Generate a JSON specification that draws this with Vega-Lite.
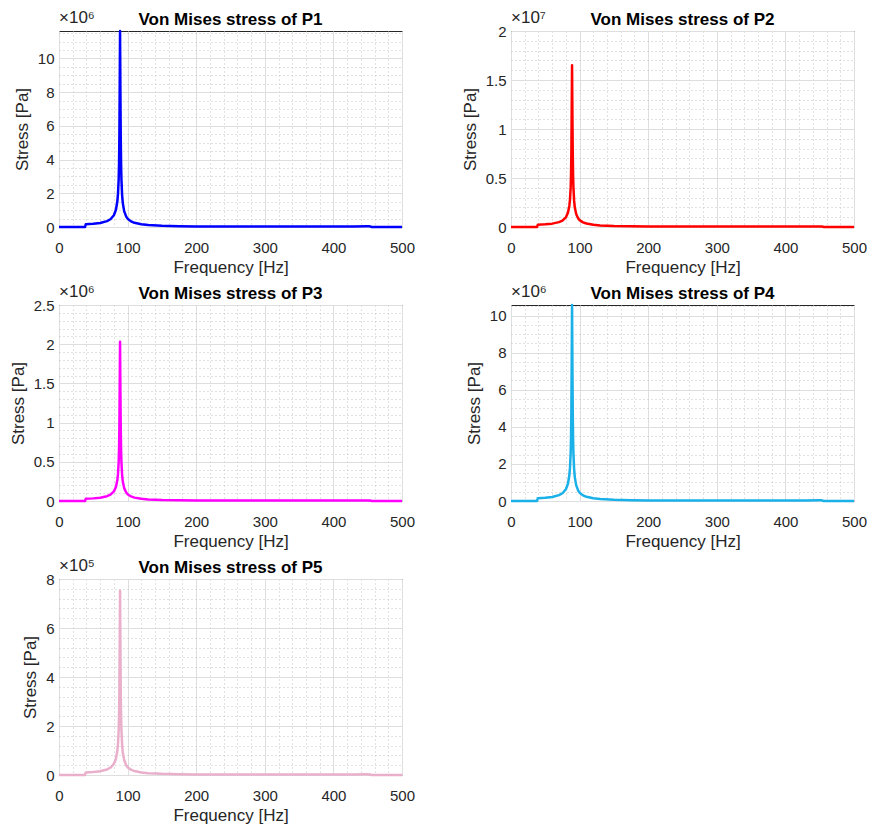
{
  "$schema": "https://vega.github.io/schema/vega-lite/v6.json",
  "background": "white",
  "padding": {"left": 8, "top": 8, "right": 5, "bottom": 5},
  "datasets": {
    "stress": [
      {"f": 0, "P1": 0, "P2": 0, "P3": 0, "P4": 0, "P5": 0},
      {"f": 38, "P1": 0, "P2": 0, "P3": 0, "P4": 0, "P5": 0},
      {"f": 39, "P1": 161700, "P2": 229400, "P3": 28220, "P4": 146900, "P5": 10450},
      {"f": 50, "P1": 191900, "P2": 272300, "P3": 33500, "P4": 174400, "P5": 12410},
      {"f": 60, "P1": 241900, "P2": 343200, "P3": 42220, "P4": 219900, "P5": 15640},
      {"f": 70, "P1": 348900, "P2": 495000, "P3": 60900, "P4": 317100, "P5": 22560},
      {"f": 75, "P1": 459400, "P2": 651800, "P3": 80190, "P4": 417500, "P5": 29700},
      {"f": 80, "P1": 697800, "P2": 990000, "P3": 121800, "P4": 634200, "P5": 45120},
      {"f": 83, "P1": 1023400, "P2": 1452000, "P3": 178600, "P4": 930200, "P5": 66180},
      {"f": 85, "P1": 1511900, "P2": 2145000, "P3": 263900, "P4": 1374100, "P5": 97760},
      {"f": 86, "P1": 1977100, "P2": 2805000, "P3": 345100, "P4": 1796900, "P5": 127800},
      {"f": 87, "P1": 2849400, "P2": 4042500, "P3": 497400, "P4": 2589700, "P5": 184200},
      {"f": 87.5, "P1": 3721600, "P2": 5280000, "P3": 649600, "P4": 3382400, "P5": 240600},
      {"f": 88, "P1": 5349800, "P2": 7590000, "P3": 933800, "P4": 4862200, "P5": 345900},
      {"f": 88.5, "P1": 8373600, "P2": 11880000, "P3": 1461600, "P4": 7610400, "P5": 541400},
      {"f": 89, "P1": 11630000, "P2": 16500000, "P3": 2030000, "P4": 10570000, "P5": 752000},
      {"f": 89.5, "P1": 8141000, "P2": 11550000, "P3": 1421000, "P4": 7399000, "P5": 526400},
      {"f": 90, "P1": 5349800, "P2": 7590000, "P3": 933800, "P4": 4862200, "P5": 345900},
      {"f": 90.5, "P1": 3721600, "P2": 5280000, "P3": 649600, "P4": 3382400, "P5": 240600},
      {"f": 91, "P1": 2849400, "P2": 4042500, "P3": 497400, "P4": 2589700, "P5": 184200},
      {"f": 92, "P1": 1895700, "P2": 2689500, "P3": 330900, "P4": 1722900, "P5": 122600},
      {"f": 93, "P1": 1418900, "P2": 2013000, "P3": 247700, "P4": 1289500, "P5": 91740},
      {"f": 95, "P1": 942000, "P2": 1336500, "P3": 164400, "P4": 856200, "P5": 60910},
      {"f": 98, "P1": 616400, "P2": 874500, "P3": 107600, "P4": 560200, "P5": 39860},
      {"f": 100, "P1": 494300, "P2": 701300, "P3": 86280, "P4": 449200, "P5": 31960},
      {"f": 105, "P1": 333800, "P2": 473600, "P3": 58260, "P4": 303400, "P5": 21580},
      {"f": 110, "P1": 247700, "P2": 351500, "P3": 43240, "P4": 225100, "P5": 16020},
      {"f": 120, "P1": 159300, "P2": 226100, "P3": 27810, "P4": 144800, "P5": 10300},
      {"f": 130, "P1": 115100, "P2": 163400, "P3": 20100, "P4": 104600, "P5": 7445},
      {"f": 150, "P1": 72100, "P2": 102300, "P3": 12590, "P4": 65530, "P5": 4662},
      {"f": 175, "P1": 46500, "P2": 66000, "P3": 8120, "P4": 42280, "P5": 3008},
      {"f": 200, "P1": 34900, "P2": 49500, "P3": 6090, "P4": 31710, "P5": 2256},
      {"f": 250, "P1": 30200, "P2": 42900, "P3": 5278, "P4": 27480, "P5": 1955},
      {"f": 300, "P1": 29100, "P2": 41250, "P3": 5075, "P4": 26430, "P5": 1880},
      {"f": 350, "P1": 29100, "P2": 41250, "P3": 5075, "P4": 26430, "P5": 1880},
      {"f": 400, "P1": 30200, "P2": 42900, "P3": 5278, "P4": 27480, "P5": 1955},
      {"f": 430, "P1": 34900, "P2": 49500, "P3": 6090, "P4": 31710, "P5": 2256},
      {"f": 448, "P1": 39500, "P2": 56100, "P3": 6902, "P4": 35940, "P5": 2557},
      {"f": 453, "P1": 38400, "P2": 54450, "P3": 6699, "P4": 34880, "P5": 2482},
      {"f": 456, "P1": 0, "P2": 0, "P3": 0, "P4": 0, "P5": 0},
      {"f": 500, "P1": 0, "P2": 0, "P3": 0, "P4": 0, "P5": 0}
    ]
  },
  "columns": 2,
  "spacing": {"row": 78, "column": 109},
  "bounds": "flush",
  "concat": [
    {
      "width": 343, "height": 196,
      "title": "Von Mises stress of P1",
      "layer": [
        {
          "data": {"name": "stress"},
          "mark": {"type": "line", "color": "#0000ff", "strokeWidth": 2.5, "strokeJoin": "round"},
          "encoding": {
            "x": {"field": "f", "type": "quantitative", "scale": {"domain": [0, 500], "nice": false},
              "axis": {"title": "Frequency [Hz]", "labelOverlap": false, "labelFlush": false, "tickCount": 200,
                "values": [0,20,40,60,80,100,120,140,160,180,200,220,240,260,280,300,320,340,360,380,400,420,440,460,480,500],
                "labelExpr": "datum.value % 100 === 0 ? datum.label : ''",
                "gridDash": {"condition": {"test": "datum.value % 100 === 0", "value": []}, "value": [1, 3]},
                "gridColor": {"condition": {"test": "datum.value % 100 === 0", "value": "#dedede"}, "value": "#c4c4c4"}}},
            "y": {"field": "P1", "type": "quantitative", "scale": {"domain": [0, 11630000], "nice": false},
              "axis": {"title": "Stress [Pa]", "labelOverlap": false, "tickCount": 200,
                "values": [0,500000,1000000,1500000,2000000,2500000,3000000,3500000,4000000,4500000,5000000,5500000,6000000,6500000,7000000,7500000,8000000,8500000,9000000,9500000,10000000,10500000,11000000,11500000],
                "labelExpr": "datum.value % 2000000 === 0 ? format(datum.value / 1e6, '~g') : ''",
                "gridDash": {"condition": {"test": "datum.value % 2000000 === 0", "value": []}, "value": [1, 3]},
                "gridColor": {"condition": {"test": "datum.value % 2000000 === 0", "value": "#dedede"}, "value": "#c4c4c4"}}}
          }
        },
        {
          "data": {"values": [{"exp": "×10⁶"}]},
          "mark": {"type": "text", "align": "left", "baseline": "bottom", "dy": -4, "fontSize": 17, "color": "#262626"},
          "encoding": {
            "x": {"datum": 0, "type": "quantitative"},
            "y": {"datum": 11630000, "type": "quantitative"},
            "text": {"field": "exp"}
          }
        }
      ]
    },
    {
      "width": 343, "height": 196,
      "title": "Von Mises stress of P2",
      "layer": [
        {
          "data": {"name": "stress"},
          "mark": {"type": "line", "color": "#ff0000", "strokeWidth": 2.5, "strokeJoin": "round"},
          "encoding": {
            "x": {"field": "f", "type": "quantitative", "scale": {"domain": [0, 500], "nice": false},
              "axis": {"title": "Frequency [Hz]", "labelOverlap": false, "labelFlush": false, "tickCount": 200,
                "values": [0,20,40,60,80,100,120,140,160,180,200,220,240,260,280,300,320,340,360,380,400,420,440,460,480,500],
                "labelExpr": "datum.value % 100 === 0 ? datum.label : ''",
                "gridDash": {"condition": {"test": "datum.value % 100 === 0", "value": []}, "value": [1, 3]},
                "gridColor": {"condition": {"test": "datum.value % 100 === 0", "value": "#dedede"}, "value": "#c4c4c4"}}},
            "y": {"field": "P2", "type": "quantitative", "scale": {"domain": [0, 20000000], "nice": false},
              "axis": {"title": "Stress [Pa]", "labelOverlap": false, "tickCount": 200,
                "values": [0,1000000,2000000,3000000,4000000,5000000,6000000,7000000,8000000,9000000,10000000,11000000,12000000,13000000,14000000,15000000,16000000,17000000,18000000,19000000,20000000],
                "labelExpr": "datum.value % 5000000 === 0 ? format(datum.value / 1e7, '~g') : ''",
                "gridDash": {"condition": {"test": "datum.value % 5000000 === 0", "value": []}, "value": [1, 3]},
                "gridColor": {"condition": {"test": "datum.value % 5000000 === 0", "value": "#dedede"}, "value": "#c4c4c4"}}}
          }
        },
        {
          "data": {"values": [{"exp": "×10⁷"}]},
          "mark": {"type": "text", "align": "left", "baseline": "bottom", "dy": -4, "fontSize": 17, "color": "#262626"},
          "encoding": {
            "x": {"datum": 0, "type": "quantitative"},
            "y": {"datum": 20000000, "type": "quantitative"},
            "text": {"field": "exp"}
          }
        }
      ]
    },
    {
      "width": 343, "height": 196,
      "title": "Von Mises stress of P3",
      "layer": [
        {
          "data": {"name": "stress"},
          "mark": {"type": "line", "color": "#ff00ff", "strokeWidth": 2.5, "strokeJoin": "round"},
          "encoding": {
            "x": {"field": "f", "type": "quantitative", "scale": {"domain": [0, 500], "nice": false},
              "axis": {"title": "Frequency [Hz]", "labelOverlap": false, "labelFlush": false, "tickCount": 200,
                "values": [0,20,40,60,80,100,120,140,160,180,200,220,240,260,280,300,320,340,360,380,400,420,440,460,480,500],
                "labelExpr": "datum.value % 100 === 0 ? datum.label : ''",
                "gridDash": {"condition": {"test": "datum.value % 100 === 0", "value": []}, "value": [1, 3]},
                "gridColor": {"condition": {"test": "datum.value % 100 === 0", "value": "#dedede"}, "value": "#c4c4c4"}}},
            "y": {"field": "P3", "type": "quantitative", "scale": {"domain": [0, 2500000], "nice": false},
              "axis": {"title": "Stress [Pa]", "labelOverlap": false, "tickCount": 200,
                "values": [0,100000,200000,300000,400000,500000,600000,700000,800000,900000,1000000,1100000,1200000,1300000,1400000,1500000,1600000,1700000,1800000,1900000,2000000,2100000,2200000,2300000,2400000,2500000],
                "labelExpr": "datum.value % 500000 === 0 ? format(datum.value / 1e6, '~g') : ''",
                "gridDash": {"condition": {"test": "datum.value % 500000 === 0", "value": []}, "value": [1, 3]},
                "gridColor": {"condition": {"test": "datum.value % 500000 === 0", "value": "#dedede"}, "value": "#c4c4c4"}}}
          }
        },
        {
          "data": {"values": [{"exp": "×10⁶"}]},
          "mark": {"type": "text", "align": "left", "baseline": "bottom", "dy": -4, "fontSize": 17, "color": "#262626"},
          "encoding": {
            "x": {"datum": 0, "type": "quantitative"},
            "y": {"datum": 2500000, "type": "quantitative"},
            "text": {"field": "exp"}
          }
        }
      ]
    },
    {
      "width": 343, "height": 196,
      "title": "Von Mises stress of P4",
      "layer": [
        {
          "data": {"name": "stress"},
          "mark": {"type": "line", "color": "#1ab0e8", "strokeWidth": 2.5, "strokeJoin": "round"},
          "encoding": {
            "x": {"field": "f", "type": "quantitative", "scale": {"domain": [0, 500], "nice": false},
              "axis": {"title": "Frequency [Hz]", "labelOverlap": false, "labelFlush": false, "tickCount": 200,
                "values": [0,20,40,60,80,100,120,140,160,180,200,220,240,260,280,300,320,340,360,380,400,420,440,460,480,500],
                "labelExpr": "datum.value % 100 === 0 ? datum.label : ''",
                "gridDash": {"condition": {"test": "datum.value % 100 === 0", "value": []}, "value": [1, 3]},
                "gridColor": {"condition": {"test": "datum.value % 100 === 0", "value": "#dedede"}, "value": "#c4c4c4"}}},
            "y": {"field": "P4", "type": "quantitative", "scale": {"domain": [0, 10570000], "nice": false},
              "axis": {"title": "Stress [Pa]", "labelOverlap": false, "tickCount": 200,
                "values": [0,500000,1000000,1500000,2000000,2500000,3000000,3500000,4000000,4500000,5000000,5500000,6000000,6500000,7000000,7500000,8000000,8500000,9000000,9500000,10000000,10500000],
                "labelExpr": "datum.value % 2000000 === 0 ? format(datum.value / 1e6, '~g') : ''",
                "gridDash": {"condition": {"test": "datum.value % 2000000 === 0", "value": []}, "value": [1, 3]},
                "gridColor": {"condition": {"test": "datum.value % 2000000 === 0", "value": "#dedede"}, "value": "#c4c4c4"}}}
          }
        },
        {
          "data": {"values": [{"exp": "×10⁶"}]},
          "mark": {"type": "text", "align": "left", "baseline": "bottom", "dy": -4, "fontSize": 17, "color": "#262626"},
          "encoding": {
            "x": {"datum": 0, "type": "quantitative"},
            "y": {"datum": 10570000, "type": "quantitative"},
            "text": {"field": "exp"}
          }
        }
      ]
    },
    {
      "width": 343, "height": 196,
      "title": "Von Mises stress of P5",
      "layer": [
        {
          "data": {"name": "stress"},
          "mark": {"type": "line", "color": "#e9afcb", "strokeWidth": 2.5, "strokeJoin": "round"},
          "encoding": {
            "x": {"field": "f", "type": "quantitative", "scale": {"domain": [0, 500], "nice": false},
              "axis": {"title": "Frequency [Hz]", "labelOverlap": false, "labelFlush": false, "tickCount": 200,
                "values": [0,20,40,60,80,100,120,140,160,180,200,220,240,260,280,300,320,340,360,380,400,420,440,460,480,500],
                "labelExpr": "datum.value % 100 === 0 ? datum.label : ''",
                "gridDash": {"condition": {"test": "datum.value % 100 === 0", "value": []}, "value": [1, 3]},
                "gridColor": {"condition": {"test": "datum.value % 100 === 0", "value": "#dedede"}, "value": "#c4c4c4"}}},
            "y": {"field": "P5", "type": "quantitative", "scale": {"domain": [0, 800000], "nice": false},
              "axis": {"title": "Stress [Pa]", "labelOverlap": false, "tickCount": 200,
                "values": [0,40000,80000,120000,160000,200000,240000,280000,320000,360000,400000,440000,480000,520000,560000,600000,640000,680000,720000,760000,800000],
                "labelExpr": "datum.value % 200000 === 0 ? format(datum.value / 1e5, '~g') : ''",
                "gridDash": {"condition": {"test": "datum.value % 200000 === 0", "value": []}, "value": [1, 3]},
                "gridColor": {"condition": {"test": "datum.value % 200000 === 0", "value": "#dedede"}, "value": "#c4c4c4"}}}
          }
        },
        {
          "data": {"values": [{"exp": "×10⁵"}]},
          "mark": {"type": "text", "align": "left", "baseline": "bottom", "dy": -4, "fontSize": 17, "color": "#262626"},
          "encoding": {
            "x": {"datum": 0, "type": "quantitative"},
            "y": {"datum": 800000, "type": "quantitative"},
            "text": {"field": "exp"}
          }
        }
      ]
    }
  ],
  "config": {
    "font": "Liberation Sans",
    "view": {"stroke": "#262626", "strokeWidth": 1},
    "axis": {
      "labelFont": "Liberation Sans", "labelFontSize": 15, "labelColor": "#262626",
      "titleFont": "Liberation Sans", "titleFontSize": 17, "titleFontWeight": "normal", "titleColor": "#262626",
      "ticks": false, "domain": false, "labelFlush": false, "labelOverlap": false,
      "gridOpacity": 1, "gridWidth": 1
    },
    "axisX": {"labelPadding": 13, "titlePadding": 4},
    "axisY": {"labelPadding": 5, "titlePadding": 6},
    "title": {"font": "Liberation Sans", "fontSize": 17, "fontWeight": "bold", "color": "#000000", "offset": -20}
  }
}
